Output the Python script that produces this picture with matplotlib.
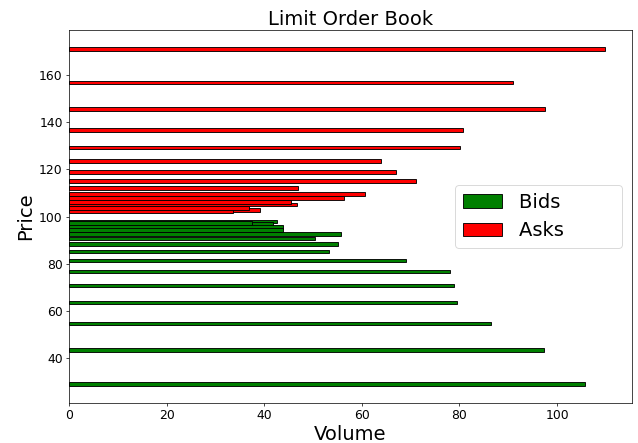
import matplotlib
matplotlib.use("Agg")
import matplotlib.pyplot as plt

# bids (price, volume)
bid_prices = [97.9, 96.9, 97.4, 95.6, 94.4, 92.7, 90.8, 88.3, 85.3, 81.5, 76.7, 70.9, 63.7, 54.8, 43.4, 29.1]
bid_volumes = [42.6, 41.9, 37.6, 43.9, 43.9, 55.7, 50.5, 55.2, 53.3, 69.1, 78.1, 79.0, 79.5, 86.5, 97.4, 105.7]

# asks
ask_prices = [102.7, 102.3, 103.7, 105.1, 106.2, 107.8, 109.6, 112.2, 115.0, 118.8, 123.5, 129.2, 136.6, 145.5, 156.8, 171.1]
ask_volumes = [39.1, 33.7, 37.0, 46.7, 45.6, 56.3, 60.7, 47.0, 71.2, 67.1, 64.0, 80.1, 80.7, 97.6, 91.0, 109.8]

# big figure drawn at a low dpi, so the default line widths shrink with it
fig = plt.figure(figsize=(10, 6.944), dpi=63.8)
ax = fig.add_axes([0.108, 0.091, 0.882, 0.841])

ax.barh(bid_prices, bid_volumes, height=1.5, color="green", edgecolor="black", label="Bids")
ax.barh(ask_prices, ask_volumes, height=1.5, color="red", edgecolor="black", label="Asks")

ax.set_title("Limit Order Book", fontsize=22)
ax.set_xlabel("Volume", fontsize=22)
ax.set_ylabel("Price", fontsize=22)
ax.tick_params(labelsize=14)

# the legend box in the reference is much wider than its labels
handles, labels = ax.get_legend_handles_labels()
ax.legend(handles, [lab + " " * 8 for lab in labels], loc="center right",
          fontsize=22, handletextpad=0.9)

fig.savefig("out.png", dpi=63.8)
